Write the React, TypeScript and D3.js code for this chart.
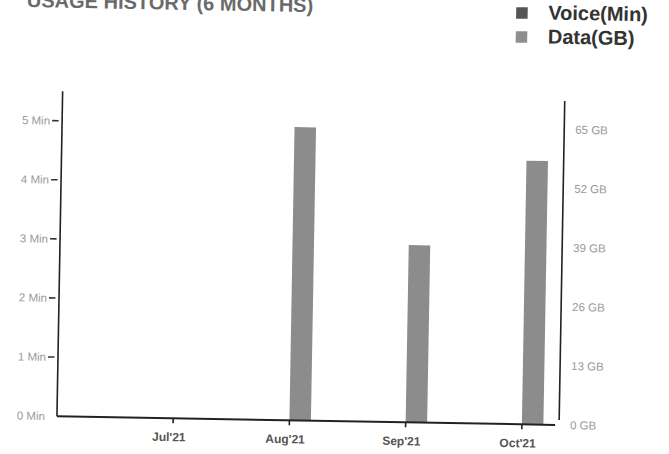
import React from 'react';
import * as d3 from 'd3';

const months = ["Jul'21", "Aug'21", "Sep'21", "Oct'21"];
const voiceMin = [0, 0, 0, 0];
const dataGB = [0, 64.5, 39, 58];
const voiceTicks = [0, 1, 2, 3, 4, 5];
const dataTicks = [0, 13, 26, 39, 52, 65];
const legendItems = ['Voice(Min)', 'Data(GB)'];

export default function App() {
  const width = 669;
  const height = 454;
  const left = 60.3;
  const right = 562.5;
  const top = 96;
  const base = 421;
  const barW = 21.5;

  const x = d3.scaleLinear().domain([0, 4.32]).range([left, right]);
  const yL = d3.scaleLinear().domain([0, 5.5]).range([base, top]);
  const yR = d3.scaleLinear().domain([0, 71.5]).range([base, top]);
  const legendColor = d3.scaleOrdinal<string, string>().domain(legendItems).range(['#555', '#8e8e8e']);

  const tickFont = { fontFamily: 'Liberation Sans, Arial, sans-serif', fontSize: 11.5, fill: '#9a9a9a' };

  return (
    <svg width={width} height={height} style={{ position: 'absolute', left: 0, top: 0, background: '#fff' }}>
      <g transform="rotate(1, 334, 227)">
        <text x={23} y={12.5} fontFamily="Liberation Sans, Arial, sans-serif" fontWeight="bold" fontSize={20} fill="#6a6a6a">
          USAGE HISTORY (6 MONTHS)
        </text>

        {legendItems.map((name, i) => (
          <g key={name} transform={`translate(0, ${i * 24})`}>
            <rect x={512.4} y={4} width={11.5} height={11.5} fill={legendColor(name)} />
            <text x={544.5} y={15.8} fontFamily="Liberation Sans, Arial, sans-serif" fontWeight="bold" fontSize={20} fill="#333">
              {name}
            </text>
          </g>
        ))}

        {/* bars */}
        {months.map((m, i) => (
          <g key={m}>
            <rect x={x(i + 1) - barW} y={yL(voiceMin[i])} width={barW} height={base - yL(voiceMin[i])} fill="#555" />
            <rect x={x(i + 1)} y={yR(dataGB[i])} width={barW} height={base - yR(dataGB[i])} fill="#8c8c8c" />
          </g>
        ))}

        {/* left axis */}
        <line x1={left} x2={left} y1={top} y2={base} stroke="#222" strokeWidth={1.6} />
        {voiceTicks.map(t => (
          <g key={t}>
            {t > 0 && <line x1={left - 10} x2={left - 3.5} y1={yL(t)} y2={yL(t)} stroke="#333" strokeWidth={1.6} />}
            <text x={left - 12} y={yL(t)} dy="0.35em" textAnchor="end" {...tickFont}>
              {t} Min
            </text>
          </g>
        ))}

        {/* right axis */}
        <line x1={right} x2={right} y1={top + 1} y2={base - 5} stroke="#222" strokeWidth={1.6} />
        {dataTicks.map(t => (
          <text key={t} x={right + 11} y={yR(t)} dy="0.35em" {...tickFont}>
            {t} GB
          </text>
        ))}

        {/* x axis */}
        <line x1={left} x2={right - 4} y1={base} y2={base} stroke="#222" strokeWidth={2} />
        {months.map((m, i) => (
          <g key={m}>
            <line x1={x(i + 1)} x2={x(i + 1)} y1={base} y2={base + 5} stroke="#222" strokeWidth={1.6} />
            <text x={x(i + 1) - 4} y={444} textAnchor="middle" fontFamily="Liberation Sans, Arial, sans-serif" fontWeight="bold" fontSize={12} fill="#555">
              {m}
            </text>
          </g>
        ))}
      </g>
    </svg>
  );
}
